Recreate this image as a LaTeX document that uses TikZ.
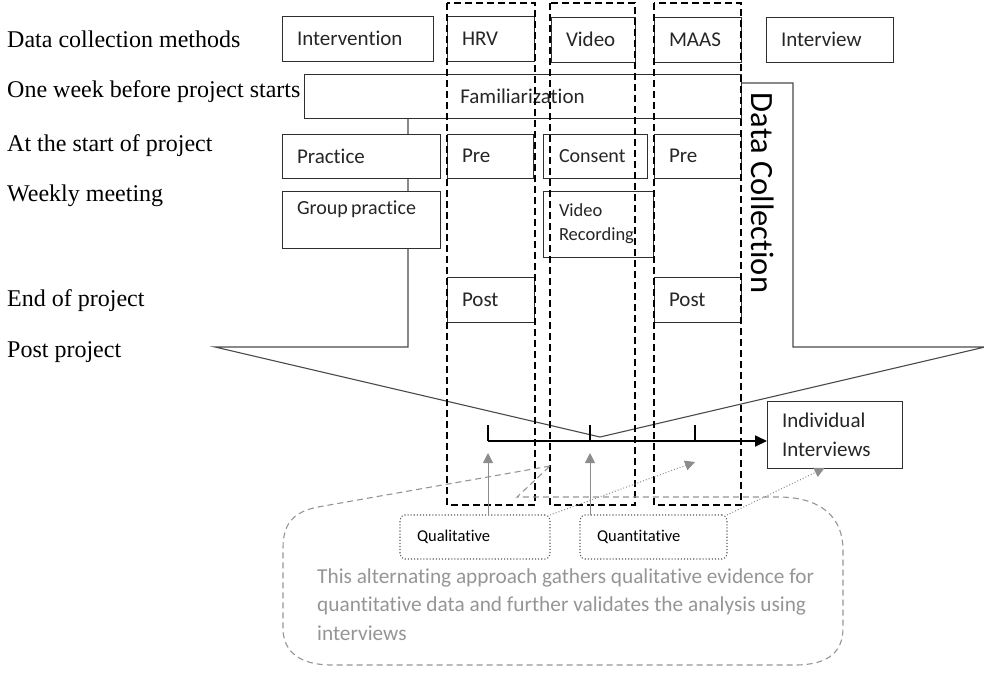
\documentclass[tikz,border=0pt]{standalone}
\usepackage{fontspec}
\setmainfont{Liberation Serif}
\newfontfamily\boxfont[Ligatures=NoCommon]{Carlito}
\newfontfamily\rowfont{Liberation Serif}
\usetikzlibrary{arrows.meta,calc}

\definecolor{edge}{HTML}{2E2E2E}
\definecolor{arrowline}{HTML}{4A4A4A}
\definecolor{softgray}{HTML}{8C8C8C}
\definecolor{notegray}{HTML}{959595}

\tikzset{
  rowlabel/.style={anchor=base west, inner sep=0pt,
    font=\rowfont\fontsize{24}{28}\selectfont, text=black},
  cell/.style={draw=edge, line width=1pt, fill=white, anchor=north west,
    inner xsep=15pt, inner ysep=0pt, outer sep=0pt, align=left,
    font=\boxfont\fontsize{21}{25}\selectfont, text=black!85},
  column/.style={draw=black, line width=1.2pt, dash pattern=on 7pt off 4pt},
  bigarrow/.style={draw=arrowline, line width=1.1pt, line join=miter},
  timeline/.style={draw=black, line width=1.8pt},
  tickmark/.style={draw=black, line width=1.6pt},
  solidgray/.style={draw=softgray, line width=1pt,
    -{Triangle[length=10pt,width=10pt]}, softgray},
  dotgray/.style={draw=softgray, line width=1pt, dotted,
    -{Triangle[length=10pt,width=10pt]}, softgray},
  callout/.style={draw=notegray, line width=1.1pt, dash pattern=on 6pt off 4pt},
  tagbox/.style={draw=edge!80, line width=1.1pt, dotted, rounded corners=5pt,
    anchor=north west, inner xsep=17pt, inner ysep=0pt, outer sep=0pt,
    align=left, font=\boxfont\fontsize{16.5}{19}\selectfont, text=black}
}

\begin{document}
\begin{tikzpicture}[x=1pt,y=-1pt]
\useasboundingbox (0,0) rectangle (984,673);

% phase labels down the left side
\node[rowlabel] (r1) at (7,47)  {Data collection methods};
\node[rowlabel] (r2) at (7,97)  {One week before project starts};
\node[rowlabel] (r3) at (7,151) {At the start of project};
\node[rowlabel] (r4) at (7,201) {Weekly meeting};
\node[rowlabel] (r5) at (7,306) {End of project};
\node[rowlabel] (r6) at (7,357) {Post project};

% large downward block arrow behind the table
\draw[bigarrow] (741,83) -- (793,83) -- (793,347) -- (985,347) -- (600,437)
  -- (215,347) -- (408,347) -- (408,83) -- (741,83);

% header row
\node[cell, minimum width=151pt, minimum height=45pt, text width=121pt] (intv) at (282,16) {Intervention};
\node[cell, minimum width=87pt, minimum height=45pt, text width=57pt] (hrv) at (447,16) {HRV};
\node[cell, minimum width=84pt, minimum height=45pt, text width=54pt] (video) at (551,17) {Video};
\node[cell, minimum width=87pt, minimum height=45pt, text width=57pt] (maas) at (654,17) {MAAS};
\node[cell, minimum width=127pt, minimum height=45pt, text width=97pt] (intw) at (766,17) {Interview};

% familiarization week
\node[cell, minimum width=437pt, minimum height=44pt, text width=407pt, align=center] (fam) at (304,74) {Familiarization};

% start of project
\node[cell, minimum width=158pt, minimum height=44pt, text width=128pt] (prac) at (282,134) {Practice};
\node[cell, minimum width=86pt, minimum height=44pt, text width=56pt] (hrvpre) at (447,134) {Pre};
\node[cell, minimum width=104pt, minimum height=44pt, text width=72pt, inner xsep=16pt,
      font=\boxfont\fontsize{20}{24}\selectfont] (cons) at (543,134) {Consent};
\node[cell, minimum width=87pt, minimum height=44pt, text width=57pt] (maaspre) at (654,134) {Pre};

% weekly meetings
\node[cell, minimum width=158pt, minimum height=57pt, text width=128pt,
      font=\boxfont\fontsize{20}{25}\selectfont] (grp) at (282,191) {\mbox{Group\,practice}\\[-2pt]\mbox{}};
\node[cell, minimum width=110pt, minimum height=66pt, text width=78pt, inner xsep=16pt,
      font=\boxfont\fontsize{18.5}{24}\selectfont] (rec) at (543,191) {Video\\Recording};

% end of project
\node[cell, minimum width=87pt, minimum height=45pt, text width=57pt] (hrvpost) at (447,277) {Post};
\node[cell, minimum width=87pt, minimum height=45pt, text width=57pt] (maaspost) at (654,277) {Post};

% dashed columns grouping the measured methods
\draw[column] (447,3) rectangle (535,505);
\draw[column] (550,3) rectangle (635,505);
\draw[column] (654,3) rectangle (741,505);

% vertical title
\node[rotate=-90, inner sep=0pt, font=\boxfont\fontsize{32.5}{36}\selectfont, text=black] (dc) at (763,193) {Data Collection};

% interview timeline
\node[cell, minimum width=130pt, minimum height=67pt, text width=105pt, inner xsep=15pt,
      font=\boxfont\fontsize{21}{29}\selectfont] (indiv) at (767,401) {Individual\\Interviews};
\coordinate (t1) at (488,441);
\coordinate (t2) at (590,441);
\coordinate (t3) at (695,441);
\draw[timeline, -{Triangle[length=12pt,width=11pt]}] (t1) -- (t1 -| indiv.west);
\draw[tickmark] (t1) -- ++(0,-16);
\draw[tickmark] (t2) -- ++(0,-16);
\draw[tickmark] (t3) -- ++(0,-16);

% explanatory callout
\draw[callout] (550,466) -- (318,507) .. controls (292,512) and (283,525) .. (283,548)
  -- (283,628) .. controls (283,652) and (300,665) .. (332,665) -- (795,665)
  .. controls (828,665) and (843,652) .. (843,628) -- (843,550)
  .. controls (843,518) and (822,497) .. (778,497) -- (517,497) -- cycle;

\node[tagbox, minimum width=150pt, minimum height=44pt, text width=116pt] (qual) at (400,515) {Qualitative};
\node[tagbox, minimum width=147pt, minimum height=44pt, text width=113pt] (quant) at (580,515) {Quantitative};

\node[anchor=north west, inner sep=0pt, align=left, text=notegray,
      font=\boxfont\fontsize{21.3}{28.5}\selectfont] (note) at (317,568)
  {This alternating approach gathers qualitative evidence for\\
   quantitative data and further validates the analysis using\\
   interviews};

% links from evidence types to the timeline
\coordinate (a1) at (488,453);
\coordinate (a2) at (590,453);
\coordinate (a3) at (695,462);
\draw[solidgray] (qual.north -| a1) -- (a1);
\draw[solidgray] (quant.north -| a2) -- (a2);
\draw[dotgray] (qual.north east) -- (a3);
\draw[dotgray] (quant.north east) -- ($(indiv.south)+(-10,0)$);
\end{tikzpicture}
\end{document}
